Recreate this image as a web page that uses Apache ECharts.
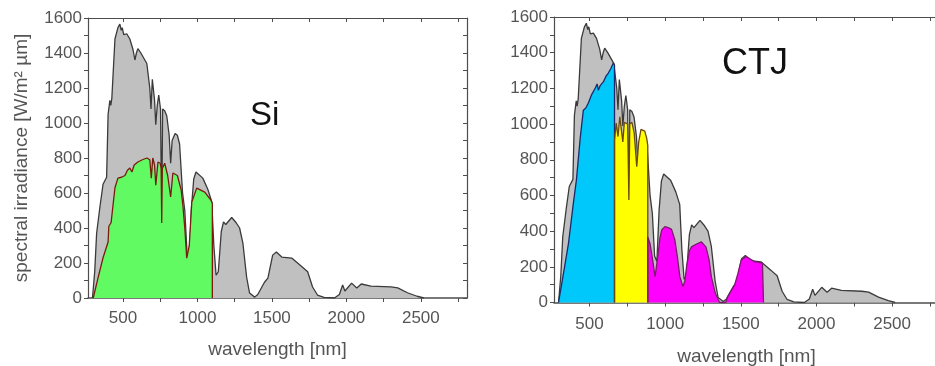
<!DOCTYPE html>
<html>
<head>
<meta charset="utf-8">
<script src="https://cdn.jsdelivr.net/npm/echarts@6/dist/echarts.min.js"></script>
<style>
  html, body { margin: 0; padding: 0; background: #fff; }
  #main { width: 935px; height: 366px; }
</style>
</head>
<body>
<div id="main"></div>
<script>
// AM1.5 spectrum (grey)
const wlAM15 = [295, 310, 323, 345, 366, 390, 400, 412, 418, 425, 446, 466, 479, 488, 495, 505, 515, 525, 546, 567, 580, 590, 600, 620, 660, 680, 688, 697, 712, 720, 730, 740, 752, 760, 766, 780, 794, 810, 820, 830, 850, 865, 880, 900, 915, 930, 945, 960, 975, 990, 1036, 1070, 1096, 1110, 1125, 1140, 1160, 1175, 1190, 1230, 1260, 1283, 1305, 1330, 1350, 1384, 1405, 1450, 1473, 1505, 1530, 1566, 1633, 1700, 1740, 1773, 1806, 1850, 1920, 1953, 1975, 1990, 2000, 2035, 2070, 2100, 2165, 2300, 2345, 2410, 2475, 2520];
const irrAM15 = [0, 150, 370, 520, 650, 690, 1050, 1130, 1100, 1140, 1480, 1545, 1565, 1530, 1545, 1505, 1500, 1510, 1480, 1420, 1360, 1400, 1425, 1400, 1340, 1200, 1080, 1250, 1130, 990, 1100, 1160, 1080, 430, 1080, 1070, 1040, 930, 770, 900, 940, 930, 880, 600, 500, 260, 230, 520, 680, 720, 685, 620, 550, 300, 130, 150, 380, 435, 420, 460, 430, 400, 314, 120, 28, 5, 20, 90, 114, 245, 263, 234, 228, 180, 150, 63, 17, 3, 0, 20, 74, 40, 35, 85, 57, 80, 68, 63, 58, 30, 10, 0];

// Si cell (green)
const wlSi = [300, 332, 366, 400, 405, 420, 446, 466, 490, 513, 530, 546, 560, 575, 600, 630, 660, 680, 690, 700, 712, 720, 735, 750, 756, 760, 764, 780, 800, 820, 835, 865, 890, 902, 915, 928, 945, 962, 995, 1049, 1090, 1100, 1100];
const irrSi = [0, 114, 230, 320, 410, 430, 630, 685, 690, 700, 730, 743, 720, 760, 777, 790, 800, 790, 685, 800, 760, 645, 777, 770, 740, 428, 740, 770, 700, 577, 714, 700, 620, 530, 400, 228, 300, 548, 628, 605, 560, 540, 0];

// CTJ top cell (blue)
const wlTop = [295, 328, 361, 393, 413, 425, 439, 459, 475, 492, 512, 538, 550, 558, 570, 591, 610, 624, 640, 657, 665, 665];
const irrTop = [0, 165, 333, 557, 686, 690, 927, 1078, 1090, 1118, 1162, 1202, 1225, 1190, 1215, 1236, 1270, 1286, 1310, 1342, 1330, 0];

// CTJ middle cell (yellow)
const wlMid = [665, 665, 676, 688, 700, 709, 720, 730, 742, 752, 760, 766, 780, 795, 812, 825, 840, 850, 865, 878, 885, 885];
const irrMid = [0, 910, 1005, 930, 1040, 1045, 900, 1010, 1020, 1000, 574, 1000, 1010, 950, 761, 900, 970, 980, 960, 920, 880, 0];

// CTJ bottom cell (magenta)
const wlBot = [885, 885, 900, 915, 933, 950, 965, 977, 998, 1020, 1042, 1064, 1080, 1097, 1117, 1130, 1141, 1160, 1174, 1200, 1240, 1270, 1290, 1305, 1332, 1360, 1400, 1412, 1459, 1480, 1503, 1520, 1536, 1560, 1590, 1620, 1643, 1650, 1650];
const irrBot = [0, 368, 330, 250, 145, 250, 360, 406, 425, 420, 410, 350, 260, 145, 90, 120, 200, 290, 312, 325, 340, 310, 240, 145, 50, 0, 0, 30, 98, 160, 238, 250, 257, 245, 229, 225, 220, 215, 0];

const xLabelValues = [500, 1000, 1500, 2000, 2500];
const xTickValues = [500, 750, 1000, 1250, 1500, 1750, 2000, 2250, 2500, 2750];

const FONT = '"Liberation Sans", Arial, sans-serif';
const AXIS_COLOR = '#4d4d4d';
const TEXT_COLOR = '#555';

const pairs = (xs, ys) => xs.map((x, i) => [x, ys[i]]);

const xAxesFor = (gridIndex, labelMargin, nameGap) => [
  {
    type: 'value', gridIndex, position: 'bottom', min: 265, max: 2810,
    axisLine: { show: true, onZero: false, lineStyle: { color: AXIS_COLOR, width: 1.5 } },
    axisTick: { show: true, inside: false, length: 4, customValues: xTickValues, lineStyle: { color: AXIS_COLOR } },
    axisLabel: {
      customValues: xLabelValues, margin: labelMargin, color: TEXT_COLOR, fontSize: 17, fontFamily: FONT,
      formatter: (v) => String(v),
    },
    splitLine: { show: false },
    name: 'wavelength [nm]', nameLocation: 'middle', nameGap,
    nameTextStyle: { color: TEXT_COLOR, fontSize: 19, fontFamily: FONT },
  },
  {
    type: 'value', gridIndex, position: 'top', min: 265, max: 2810,
    axisLine: { show: true, onZero: false, lineStyle: { color: AXIS_COLOR, width: 1.2 } },
    axisTick: { show: true, inside: true, length: 4, customValues: xTickValues, lineStyle: { color: AXIS_COLOR } },
    axisLabel: { show: false },
    splitLine: { show: false },
  },
];

const yAxesFor = (gridIndex, withName) => [
  {
    type: 'value', gridIndex, position: 'left', min: 0, max: 1600, interval: 100,
    axisLine: { show: true, onZero: false, lineStyle: { color: AXIS_COLOR, width: 1.2 } },
    axisTick: { show: true, inside: false, length: 4, lineStyle: { color: AXIS_COLOR } },
    axisLabel: {
      margin: 6, color: TEXT_COLOR, fontSize: 17, fontFamily: FONT,
      formatter: (v) => (v % 200 === 0 ? String(v) : ''),
    },
    splitLine: { show: false },
    name: withName ? 'spectral irradiance [W/m\u00B2 \u00B5m]' : '',
    nameLocation: 'middle', nameGap: 57,
    nameTextStyle: { color: TEXT_COLOR, fontSize: 19, fontFamily: FONT },
  },
  {
    type: 'value', gridIndex, position: 'right', min: 0, max: 1600, interval: 100,
    axisLine: { show: true, onZero: false, lineStyle: { color: AXIS_COLOR, width: 1.2 } },
    axisTick: { show: true, inside: true, length: 4, lineStyle: { color: AXIS_COLOR } },
    axisLabel: { show: false },
    splitLine: { show: false },
  },
];

const areaSeries = (xi, yi, data, fill, edge, z) => ({
  type: 'line', xAxisIndex: xi, yAxisIndex: yi, data, z,
  showSymbol: false, symbol: 'none', smooth: false, silent: true,
  lineStyle: { color: edge, width: 1.3 },
  areaStyle: { color: fill, opacity: 1 },
});

const chart = echarts.init(document.getElementById('main'), null, { renderer: 'canvas' });
chart.setOption({
  animation: false,
  backgroundColor: '#fff',
  grid: [
    { left: 88, top: 18, width: 379, height: 280, outerBoundsMode: 'none' },
    { left: 554, top: 17, width: 385, height: 285.5, outerBoundsMode: 'none' },
  ],
  xAxis: [...xAxesFor(0, 12, 42), ...xAxesFor(1, 13, 45)],
  yAxis: [...yAxesFor(0, true), ...yAxesFor(1, false)],
  series: [
    areaSeries(0, 0, pairs(wlAM15, irrAM15), '#c0c0c0', '#3a3a3a', 2),
    areaSeries(0, 0, pairs(wlSi, irrSi), '#62fa62', '#7a1a10', 3),
    areaSeries(2, 2, pairs(wlAM15, irrAM15), '#c0c0c0', '#3a3a3a', 2),
    areaSeries(2, 2, pairs(wlTop, irrTop), '#00c8fa', '#1b2a6b', 3),
    areaSeries(2, 2, pairs(wlMid, irrMid), '#ffff00', '#6b4a10', 3),
    areaSeries(2, 2, pairs(wlBot, irrBot), '#ff00ff', '#7a1a6a', 3),
  ],
  graphic: [
    { type: 'text', left: 250, top: 99, style: { text: 'Si', font: '33px ' + FONT, fill: '#111' } },
    { type: 'text', left: 722, top: 46, style: { text: 'CTJ', font: '36px ' + FONT, fill: '#111' } },
  ],
});
</script>
</body>
</html>
